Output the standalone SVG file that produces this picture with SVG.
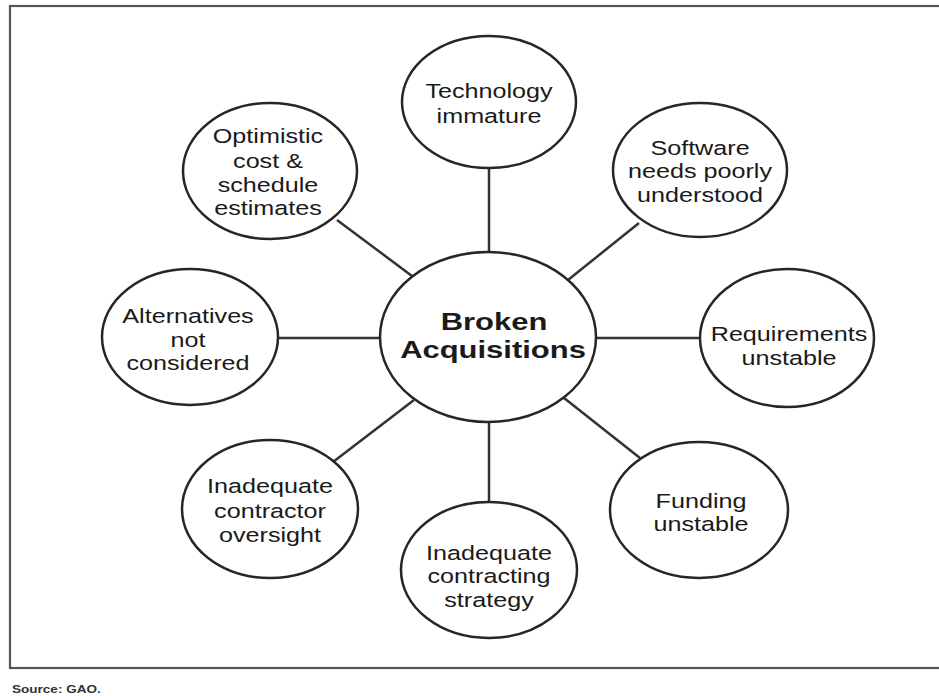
<svg xmlns="http://www.w3.org/2000/svg" width="939" height="696" viewBox="0 0 939 696">
<style>
.node ellipse{fill:#fff;stroke:#262626;stroke-width:2.5}
.node text{font-family:"Liberation Sans",Arial,sans-serif;font-size:19.5px;fill:#1a1a1a;text-anchor:middle}
.center text{font-weight:bold;font-size:24px}
#connectors line{stroke:#333;stroke-width:2.5}
.src{font-family:"Liberation Sans",Arial,sans-serif;font-size:10.5px;font-weight:bold;fill:#333}
</style>
<rect width="939" height="696" fill="#fff"/>
<rect x="10" y="6" width="940" height="662" fill="none" stroke="#555" stroke-width="2.2"/>
<g id="connectors">
<line x1="489" y1="168" x2="489" y2="252"/>
<line x1="639" y1="223" x2="568" y2="280"/>
<line x1="597" y1="338" x2="700" y2="338"/>
<line x1="564" y1="398" x2="640" y2="458"/>
<line x1="489" y1="422" x2="489" y2="502"/>
<line x1="414" y1="400" x2="333" y2="462"/>
<line x1="278" y1="338" x2="380" y2="338"/>
<line x1="337" y1="220" x2="412" y2="276"/>
</g>
<g id="center" class="node center">
<ellipse cx="488" cy="337" rx="108" ry="85"/>
<text transform="matrix(1.29 0 0 1 494 330)">Broken</text>
<text transform="matrix(1.29 0 0 1 493 358)">Acquisitions</text>
</g>
<g id="technology" class="node">
<ellipse cx="489" cy="102" rx="87" ry="66"/>
<text transform="matrix(1.29 0 0 1 489 98)">Technology</text>
<text transform="matrix(1.29 0 0 1 489 123)">immature</text>
</g>
<g id="software" class="node">
<ellipse cx="700" cy="170" rx="87" ry="67"/>
<text transform="matrix(1.29 0 0 1 700 155)">Software</text>
<text transform="matrix(1.29 0 0 1 700 178)">needs poorly</text>
<text transform="matrix(1.29 0 0 1 700 202)">understood</text>
</g>
<g id="requirements" class="node">
<ellipse cx="787" cy="338" rx="87" ry="69"/>
<text transform="matrix(1.29 0 0 1 789 341)">Requirements</text>
<text transform="matrix(1.29 0 0 1 789 365)">unstable</text>
</g>
<g id="funding" class="node">
<ellipse cx="699" cy="510" rx="89" ry="68"/>
<text transform="matrix(1.29 0 0 1 701 508)">Funding</text>
<text transform="matrix(1.29 0 0 1 701 531)">unstable</text>
</g>
<g id="strategy" class="node">
<ellipse cx="489" cy="570" rx="88" ry="68"/>
<text transform="matrix(1.29 0 0 1 489 560)">Inadequate</text>
<text transform="matrix(1.29 0 0 1 489 583)">contracting</text>
<text transform="matrix(1.29 0 0 1 489 607)">strategy</text>
</g>
<g id="oversight" class="node">
<ellipse cx="270" cy="509" rx="88" ry="69"/>
<text transform="matrix(1.29 0 0 1 270 493)">Inadequate</text>
<text transform="matrix(1.29 0 0 1 270 518)">contractor</text>
<text transform="matrix(1.29 0 0 1 270 542)">oversight</text>
</g>
<g id="alternatives" class="node">
<ellipse cx="190" cy="337" rx="88" ry="68"/>
<text transform="matrix(1.29 0 0 1 188 323)">Alternatives</text>
<text transform="matrix(1.29 0 0 1 188 347)">not</text>
<text transform="matrix(1.29 0 0 1 188 370)">considered</text>
</g>
<g id="optimistic" class="node">
<ellipse cx="270" cy="171" rx="87" ry="68"/>
<text transform="matrix(1.29 0 0 1 268 143)">Optimistic</text>
<text transform="matrix(1.29 0 0 1 268 168)">cost &amp;</text>
<text transform="matrix(1.29 0 0 1 268 192)">schedule</text>
<text transform="matrix(1.29 0 0 1 268 215)">estimates</text>
</g>
<text class="src" transform="matrix(1.29 0 0 1 12 693)">Source: GAO.</text>
</svg>
